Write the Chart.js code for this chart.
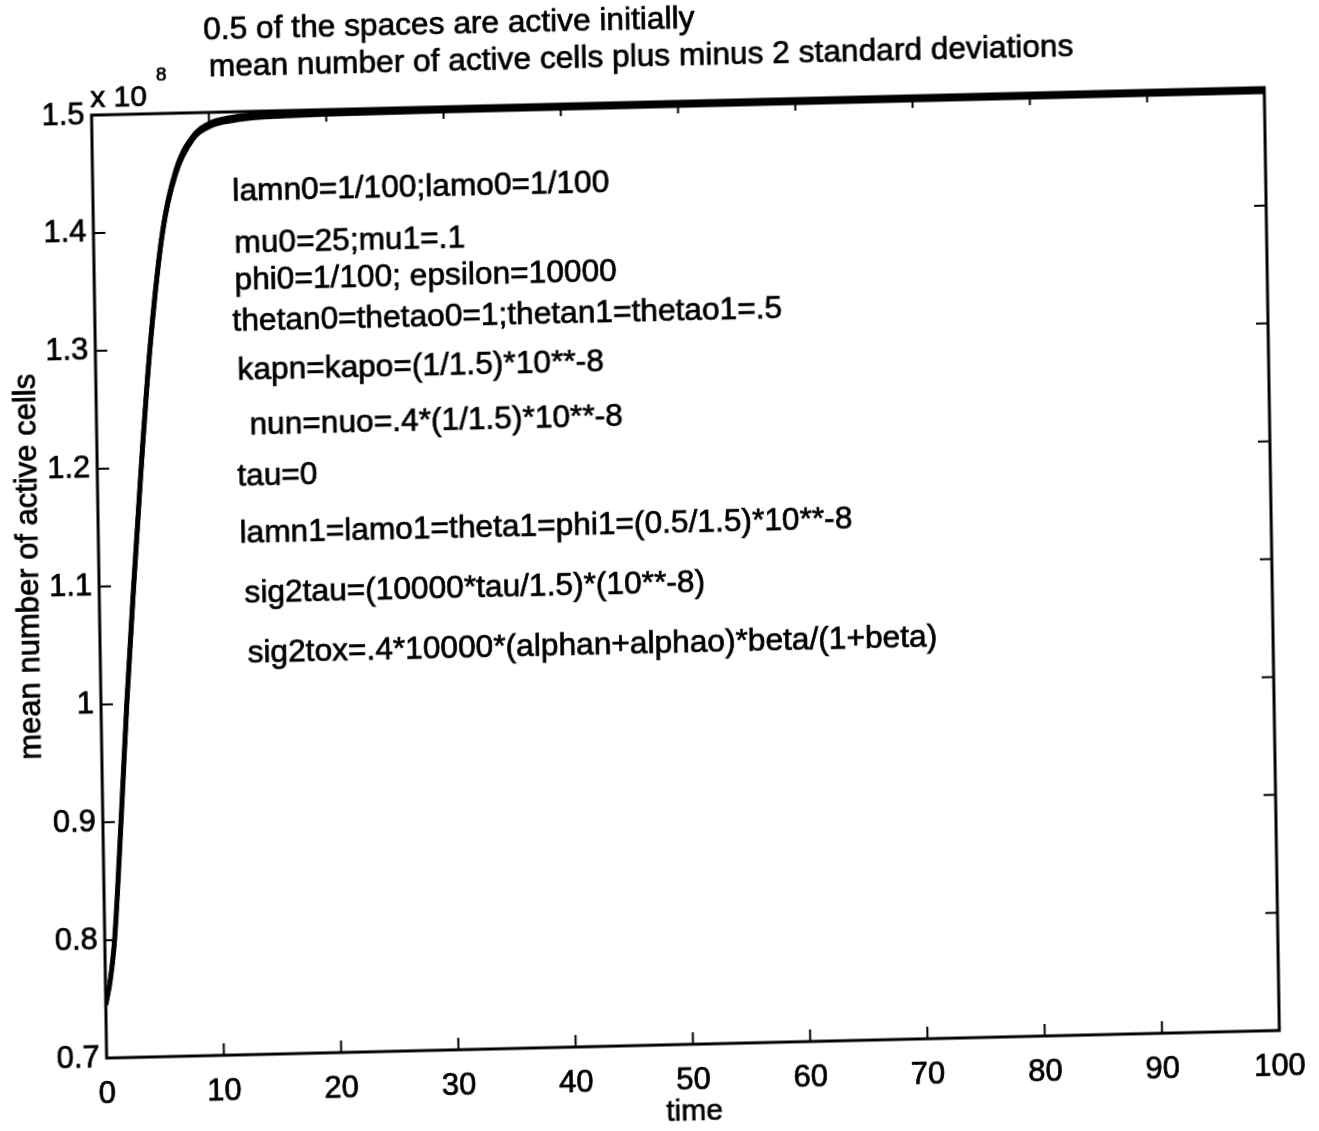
<!DOCTYPE html>
<html>
<head>
<meta charset="utf-8">
<title>mean number of active cells</title>
<script src="https://cdn.jsdelivr.net/npm/chart.js@4"></script>
<style>
    html, body { margin: 0; padding: 0; background: #fff; overflow: hidden; }
    /* the scanned page sits slightly skewed */
    #plot {
        display: block;
        transform: matrix(1, -0.0235, 0.016, 1, 0, 0);
        transform-origin: 659.5px 565.5px;
    }
</style>
</head>
<body>
<canvas id="plot" width="1319" height="1131"></canvas>
<script>
// time axis and values (units of 10^8 cells)
const timePoints = [0, 0.4, 0.84, 1.55, 2.2, 2.95, 3.75, 4.65, 5.9, 7.1, 8.7, 10.2, 12, 15, 20, 30, 40, 50, 60, 70, 80, 90, 100];
const meanCells = [0.745, 0.765, 0.80, 0.90, 1.00, 1.10, 1.20, 1.30, 1.40, 1.45, 1.48, 1.49, 1.494, 1.4965, 1.4975, 1.498, 1.498, 1.498, 1.498, 1.498, 1.498, 1.498, 1.498];
const upperCells = [0.745, 0.767, 0.803, 0.904, 1.005, 1.105, 1.205, 1.304, 1.403, 1.453, 1.482, 1.492, 1.496, 1.4985, 1.4995, 1.5, 1.5, 1.5, 1.5, 1.5, 1.5, 1.5, 1.5];
const lowerCells = [0.745, 0.763, 0.797, 0.896, 0.995, 1.095, 1.195, 1.296, 1.397, 1.447, 1.478, 1.488, 1.492, 1.4945, 1.4955, 1.496, 1.496, 1.496, 1.496, 1.496, 1.496, 1.496, 1.496];

const xTicks = [0, 10, 20, 30, 40, 50, 60, 70, 80, 90, 100];
const yTicks = [0.7, 0.8, 0.9, 1.0, 1.1, 1.2, 1.3, 1.4, 1.5];

const titleLines = [
    '0.5 of the spaces are active initially',
    'mean number of active cells plus minus 2 standard deviations'
];

// parameter notes drawn inside the axes, placed at [time, value]
const notes = [
    { text: 'lamn0=1/100;lamo0=1/100', at: [11.9, 1.432] },
    { text: 'mu0=25;mu1=.1', at: [12.0, 1.388] },
    { text: 'phi0=1/100; epsilon=10000', at: [11.96, 1.356] },
    { text: 'thetan0=thetao0=1;thetan1=thetao1=.5', at: [11.73, 1.322] },
    { text: 'kapn=kapo=(1/1.5)*10**-8', at: [12.09, 1.280] },
    { text: 'nun=nuo=.4*(1/1.5)*10**-8', at: [13.04, 1.233] },
    { text: 'tau=0', at: [11.94, 1.190] },
    { text: 'lamn1=lamo1=theta1=phi1=(0.5/1.5)*10**-8', at: [12.04, 1.142] },
    { text: 'sig2tau=(10000*tau/1.5)*(10**-8)', at: [12.39, 1.091] },
    { text: 'sig2tox=.4*10000*(alphan+alphao)*beta/(1+beta)', at: [12.57, 1.040] }
];

const FONT = '"Liberation Sans", Arial, Helvetica, sans-serif';

function toPoints(values) {
    return timePoints.map((t, i) => ({ x: t, y: values[i] }));
}

// fill + thin stroke so the glyphs look like the heavy scanned print
function inkText(ctx, str, x, y) {
    ctx.fillText(str, x, y);
    ctx.strokeText(str, x, y);
}

// white page, box, inward ticks and all the loose text
const matlabFrame = {
    id: 'matlabFrame',
    beforeDraw(chart) {
        const ctx = chart.ctx;
        ctx.save();
        ctx.fillStyle = '#fff';
        ctx.fillRect(0, 0, chart.width, chart.height);
        ctx.restore();
    },
    afterDraw(chart) {
        const ctx = chart.ctx;
        const a = chart.chartArea;
        const xs = chart.scales.x;
        const ys = chart.scales.y;
        const tickLen = 12;

        ctx.save();
        ctx.strokeStyle = '#000';
        ctx.lineWidth = 3;
        ctx.strokeRect(a.left, a.top, a.right - a.left, a.bottom - a.top);

        ctx.lineWidth = 2;
        ctx.beginPath();
        xTicks.slice(1, -1).forEach(t => {
            const px = xs.getPixelForValue(t);
            ctx.moveTo(px, a.bottom); ctx.lineTo(px, a.bottom - tickLen);
            ctx.moveTo(px, a.top); ctx.lineTo(px, a.top + tickLen);
        });
        yTicks.slice(1, -1).forEach(v => {
            const py = ys.getPixelForValue(v);
            ctx.moveTo(a.left, py); ctx.lineTo(a.left + tickLen, py);
            ctx.moveTo(a.right, py); ctx.lineTo(a.right - tickLen, py);
        });
        ctx.stroke();

        ctx.fillStyle = '#000';
        ctx.lineWidth = 0.7;
        ctx.textBaseline = 'middle';
        ctx.textAlign = 'left';

        // titles
        ctx.font = '31.7px ' + FONT;
        inkText(ctx, titleLines[0], 212, 20);
        inkText(ctx, titleLines[1], 217, 57);

        // exponent label
        ctx.font = '30px ' + FONT;
        inkText(ctx, 'x 10', 98, 86);
        ctx.font = '19px ' + FONT;
        inkText(ctx, '8', 164, 64);

        // notes
        ctx.font = '31.7px ' + FONT;
        notes.forEach(n => {
            inkText(ctx, n.text, xs.getPixelForValue(n.at[0]), ys.getPixelForValue(n.at[1]));
        });

        // axis titles
        ctx.font = '30px ' + FONT;
        ctx.textAlign = 'center';
        inkText(ctx, 'time', 686, 1113);
        ctx.save();
        ctx.translate(29, 552);
        ctx.rotate(-Math.PI / 2);
        ctx.font = '31px ' + FONT;
        inkText(ctx, 'mean number of active cells', 0, 0);
        ctx.restore();

        ctx.restore();
    }
};

new Chart(document.getElementById('plot'), {
    type: 'line',
    data: {
        datasets: [
            { label: 'mean', data: toPoints(meanCells), borderColor: '#000', borderWidth: 5 },
            { label: 'mean + 2 sd', data: toPoints(upperCells), borderColor: '#000', borderWidth: 3.5 },
            { label: 'mean - 2 sd', data: toPoints(lowerCells), borderColor: '#000', borderWidth: 3.5 }
        ]
    },
    options: {
        responsive: false,
        animation: false,
        devicePixelRatio: 1,
        layout: { padding: { left: 0, top: 102, right: 47, bottom: 0 } },
        elements: {
            point: { radius: 0 },
            line: { cubicInterpolationMode: 'monotone', fill: false }
        },
        plugins: {
            legend: { display: false },
            tooltip: { enabled: false }
        },
        scales: {
            x: {
                type: 'linear',
                min: 0,
                max: 100,
                afterFit: s => { s.height = 86; },
                afterBuildTicks: s => { s.ticks = xTicks.map(v => ({ value: v })); },
                grid: { display: false, drawTicks: false },
                border: { display: false },
                ticks: {
                    color: '#000',
                    padding: 18,
                    maxRotation: 0,
                    textStrokeColor: '#000',
                    textStrokeWidth: 0.7,
                    font: { family: FONT, size: 31 }
                }
            },
            y: {
                type: 'linear',
                min: 0.7,
                max: 1.5,
                afterFit: s => { s.width = 99; },
                afterBuildTicks: s => { s.ticks = yTicks.map(v => ({ value: v })); },
                grid: { display: false, drawTicks: false },
                border: { display: false },
                ticks: {
                    color: '#000',
                    padding: 7,
                    textStrokeColor: '#000',
                    textStrokeWidth: 0.7,
                    font: { family: FONT, size: 31 },
                    callback: v => String(Number(v.toFixed(1)))
                }
            }
        }
    },
    plugins: [matlabFrame]
});
</script>
</body>
</html>
